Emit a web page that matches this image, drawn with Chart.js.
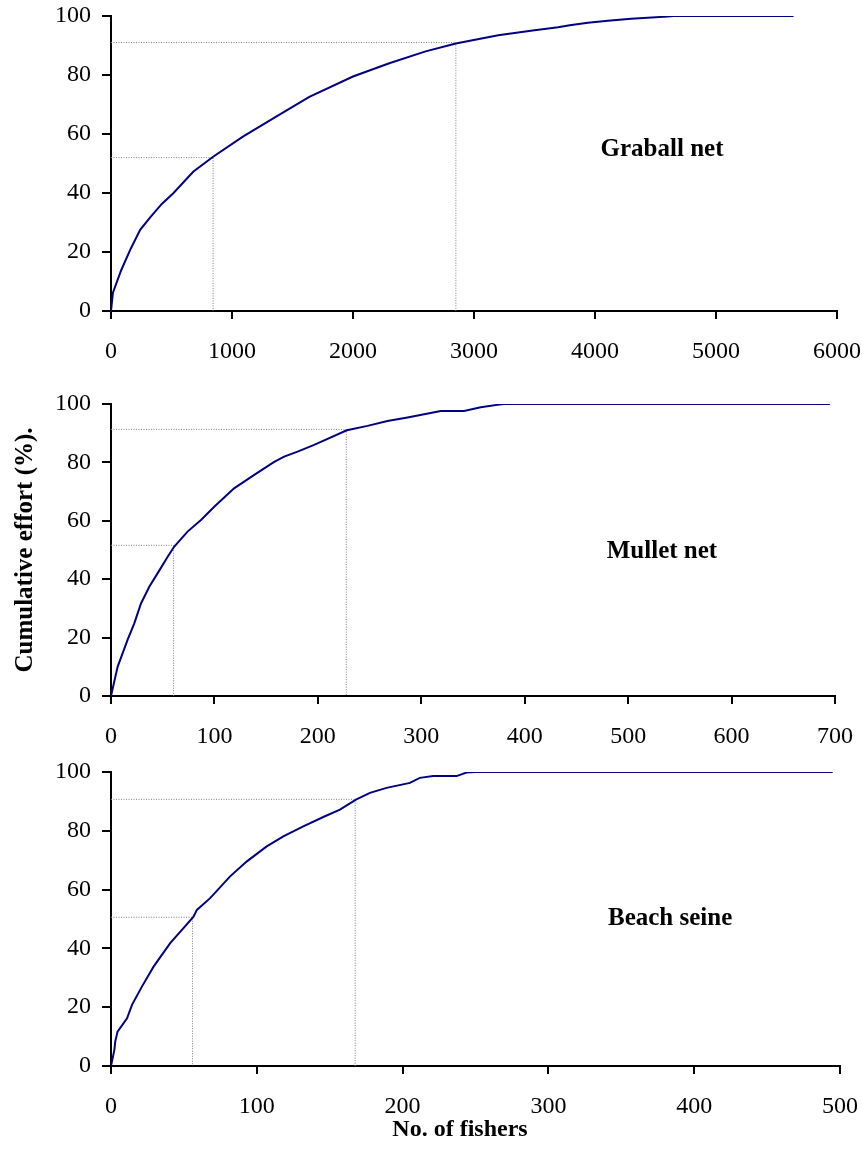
<!DOCTYPE html>
<html lang="en">
<head>
<meta charset="UTF-8">
<title>Cumulative effort by number of fishers</title>
<script src="https://cdn.jsdelivr.net/npm/chart.js"></script>
<style>
    body {
        margin: 0;
        background: #ffffff;
    }
    #page {
        position: relative;
        width: 862px;
        height: 1164px;
        overflow: hidden;
    }
    /* canvases are a bit larger than the page so the layout padding
       always wins over Chart.js' own label padding */
    #page canvas {
        position: absolute;
        left: 0;
        top: -40px;
    }
    #xTitle {
        position: absolute;
        left: 360px;
        width: 200px;
        top: 1115px;
        text-align: center;
        font: bold 24px "Liberation Serif", "Times New Roman", serif;
        color: #000;
    }
</style>
</head>
<body>
<div id="page">
    <canvas id="graball" width="902" height="1244"></canvas>
    <canvas id="mullet" width="902" height="1244"></canvas>
    <canvas id="seine" width="902" height="1244"></canvas>
    <div id="xTitle">No. of fishers</div>
</div>

<script>
// Cumulative effort curves (x = number of fishers, y = cumulative effort %)
const graballFishers = [0, 16, 85, 164, 241, 329, 420, 515, 679, 844, 1090, 1365, 1639, 2000, 2300, 2600, 2850, 3200, 3500, 3695, 3791, 3941, 4106, 4298, 4600, 4650, 5641];
const graballEffort  = [0, 6.2, 13.9, 21.2, 27.5, 32, 36.3, 39.9, 47.2, 52.3, 59.1, 65.9, 72.6, 79.5, 84, 88, 90.7, 93.5, 95.2, 96.2, 96.9, 97.7, 98.4, 99.1, 99.8, 100, 100];

const mulletFishers = [0, 6.4, 16, 22.5, 29, 37, 45, 54.8, 61, 74, 87, 99.8, 119, 138.5, 157.8, 167.4, 180.4, 196.4, 228, 248, 267.3, 286.7, 318.8, 341.4, 357.5, 373.6, 380, 695];
const mulletEffort  = [0, 10, 19.2, 24.9, 31.7, 37.4, 42, 47.7, 51.1, 56.3, 60.3, 64.8, 71.1, 75.7, 80.2, 82, 83.7, 86, 91, 92.5, 94.2, 95.4, 97.6, 97.6, 98.9, 99.7, 100, 100];

const seineFishers = [0, 2.3, 2.9, 4.5, 11, 14.4, 21.2, 29.2, 40.6, 49.7, 56.6, 58.9, 68, 81.7, 93.2, 106.8, 118.2, 131.9, 145.6, 157, 168, 177.6, 189, 205, 211.8, 221, 237, 243.8, 250, 495];
const seineEffort  = [0, 5.4, 8.3, 11.7, 16.2, 20.8, 27, 33.8, 41.8, 46.9, 50.8, 53.1, 57.1, 64.5, 69.6, 74.7, 78.1, 81.5, 84.7, 87.2, 90.6, 92.9, 94.6, 96.3, 98, 98.6, 98.6, 99.8, 100, 100];

// 50% and 90% read-off lines: effort level and the matching fisher count
const graballGuidePct = [52, 91];
const graballGuideFishers = [844, 2850];
const mulletGuidePct = [51.6, 91.3];
const mulletGuideFishers = [60.5, 227.5];
const seineGuidePct = [50.6, 90.7];
const seineGuideFishers = [55.9, 167.5];

// axis ranges
const graballMax = 6000, graballStep = 1000;
const mulletMax = 700, mulletStep = 100;
const seineMax = 500, seineStep = 100;

const SERIF = '"Liberation Serif", "Times New Roman", serif';
const SHIFT = 40;          // canvas is moved up by this much
const CANVAS_W = 902, CANVAS_H = 1244;
const XAXIS_H = 60;

Chart.defaults.font.family = SERIF;
Chart.defaults.color = '#000';

// draws the gear name inside the plot area
const panelText = {
    id: 'panelText',
    afterDatasetsDraw(chart, args, opts) {
        if (!opts.text) return;
        const a = chart.chartArea;
        const ctx = chart.ctx;
        ctx.save();
        ctx.font = 'bold 25px ' + SERIF;
        ctx.fillStyle = '#000';
        ctx.textAlign = 'center';
        ctx.textBaseline = 'middle';
        ctx.fillText(opts.text, a.left + a.width * opts.fx, a.top + a.height * opts.fy);
        ctx.restore();
    }
};

function toPoints(xs, ys) {
    return xs.map((x, i) => ({x: x, y: ys[i]}));
}

function guideSets(pcts, fishers) {
    return pcts.map((p, i) => ({
        data: [{x: 0, y: p}, {x: fishers[i], y: p}, {x: fishers[i], y: 0}],
        borderColor: '#808080',
        borderWidth: 1,
        borderDash: [1, 1.5],
        pointRadius: 0,
        tension: 0,
        order: 2
    }));
}

function makePanel(id, opts) {
    new Chart(document.getElementById(id), {
        type: 'line',
        data: {
            datasets: [{
                data: toPoints(opts.xs, opts.ys),
                borderColor: '#000080',
                borderWidth: 2,
                pointRadius: 0,
                tension: 0,
                order: 1
            }].concat(guideSets(opts.guidePct, opts.guideFishers))
        },
        options: {
            responsive: false,
            animation: false,
            devicePixelRatio: 1,
            layout: {
                padding: {
                    left: 0,
                    right: CANVAS_W - opts.right,
                    top: opts.top + SHIFT,
                    bottom: CANVAS_H - (opts.bottom + SHIFT) - XAXIS_H
                }
            },
            plugins: {
                legend: {display: false},
                tooltip: {enabled: false},
                panelText: {text: opts.label, fx: opts.fx, fy: opts.fy}
            },
            scales: {
                x: {
                    type: 'linear',
                    min: 0,
                    max: opts.max,
                    afterFit: s => { s.height = XAXIS_H; },
                    ticks: {
                        stepSize: opts.step,
                        font: {size: 24},
                        padding: 18,
                        maxRotation: 0,
                        color: '#000',
                        callback: v => String(v)
                    },
                    grid: {drawOnChartArea: false, color: '#000', lineWidth: 2, tickLength: 8},
                    border: {color: '#000', width: 2}
                },
                y: {
                    min: 0,
                    max: 100,
                    afterFit: s => { s.width = 111; },
                    ticks: {stepSize: 20, font: {size: 24}, padding: 11, color: '#000'},
                    grid: {drawOnChartArea: false, color: '#000', lineWidth: 2, tickLength: 9},
                    border: {color: '#000', width: 2},
                    title: {
                        display: !!opts.yTitle,
                        text: opts.yTitle || '',
                        font: {size: 25, weight: 'bold'},
                        color: '#000',
                        padding: {top: 11, bottom: 0}
                    }
                }
            }
        },
        plugins: [panelText]
    });
}

makePanel('graball', {
    xs: graballFishers, ys: graballEffort,
    guidePct: graballGuidePct, guideFishers: graballGuideFishers,
    max: graballMax, step: graballStep,
    top: 16, bottom: 311, right: 837,
    label: 'Graball net', fx: 0.759, fy: 0.454
});

makePanel('mullet', {
    xs: mulletFishers, ys: mulletEffort,
    guidePct: mulletGuidePct, guideFishers: mulletGuideFishers,
    max: mulletMax, step: mulletStep,
    top: 404, bottom: 696, right: 835,
    label: 'Mullet net', fx: 0.761, fy: 0.506,
    yTitle: 'Cumulative effort (%).'
});

makePanel('seine', {
    xs: seineFishers, ys: seineEffort,
    guidePct: seineGuidePct, guideFishers: seineGuideFishers,
    max: seineMax, step: seineStep,
    top: 772, bottom: 1066, right: 840,
    label: 'Beach seine', fx: 0.767, fy: 0.5
});
</script>
</body>
</html>
